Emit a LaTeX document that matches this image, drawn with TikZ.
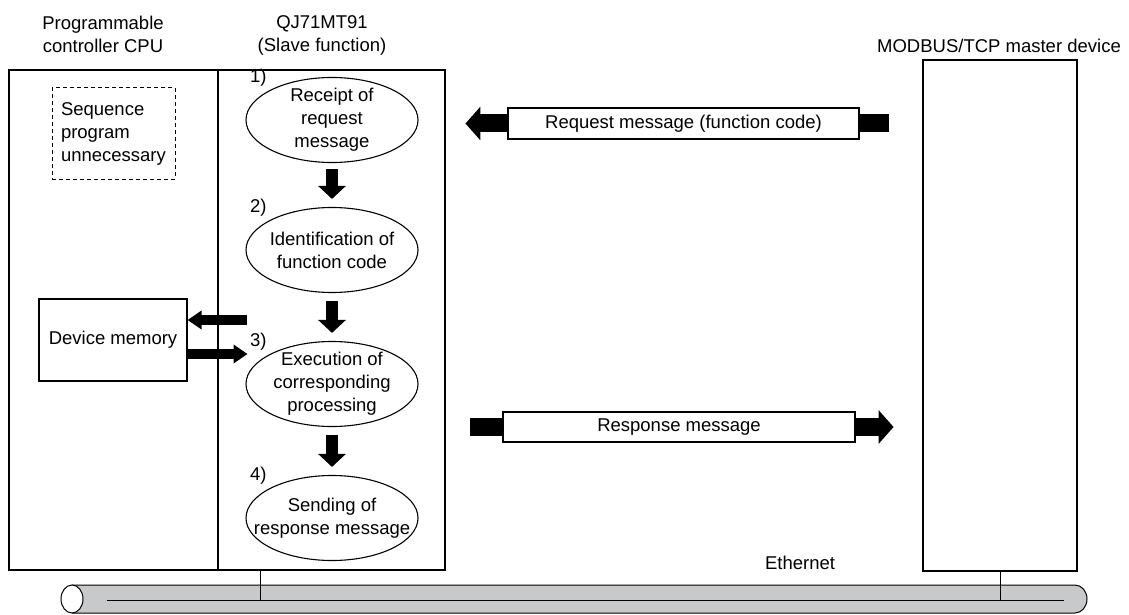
\documentclass[tikz,border=0pt]{standalone}
\usepackage{fontspec}
\setmainfont{Liberation Sans}
\usetikzlibrary{positioning,arrows.meta,shapes.geometric}
\definecolor{cablegray}{RGB}{200,201,203}

\begin{document}
\begin{tikzpicture}[x=1pt,y=-1pt,
    font=\fontsize{18.5}{23}\selectfont,
    unit/.style={draw,line width=1.5pt,inner sep=0pt},
    heading/.style={align=center,inner sep=0pt},
    stepell/.style={draw,ellipse,line width=1.1pt,minimum width=172pt,minimum height=85pt,inner sep=0pt},
    stepnum/.style={anchor=base east,inner sep=0pt},
    membox/.style={draw,line width=1.1pt,minimum width=148pt,minimum height=82pt},
    msgbox/.style={draw,fill=white,line width=1.1pt,minimum height=31pt,inner sep=0pt},
    flowarrow/.style={line width=12pt,-{Triangle[width=27pt,length=13pt]}},
    sidearrow/.style={line width=10pt,-{Triangle[width=18pt,length=14pt]}},
    msgarrow/.style={line width=18pt,-{Triangle[width=33pt,length=15pt]}},
    msgline/.style={line width=18pt}]
  \useasboundingbox (0,0) rectangle (1129,615);

  % stations
  \node[unit,minimum width=209pt,minimum height=500pt] (cpu) at (113.5,320) {};
  \node[unit,minimum width=227pt,minimum height=500pt] (qj) at (331.5,320) {};
  \node[unit,minimum width=154pt,minimum height=511pt] (master) at (1000,315.5) {};
  \node[heading] (cpulbl) at (103,34) {Programmable\\controller CPU};
  \node[heading] (qjlbl) at (322,35) {QJ71MT91\\(Slave function)};
  \node[heading] (masterlbl) at (999,46) {MODBUS/TCP master device};

  % CPU side
  \node[draw,dashed,dash pattern=on 4pt off 3pt,line width=1pt,align=left,
        text width=105pt,inner xsep=9pt,minimum height=91pt] (seq) at (113.5,133.5)
        {Sequence\\program\\unnecessary};
  \node[membox] (dm) at (113,340) {Device memory};

  % slave function steps
  \node[stepell,label={[align=center]center:Receipt of\\request\\message}] (recv) at (332,120) {};
  \node[stepell,label={[align=center]center:Identification of\\function code}] (ident) at (332,250) {};
  \node[stepell,label={[align=center]center:Execution of\\corresponding\\processing}] (exec) at (332,384) {};
  \node[stepell,label={[align=center]center:Sending of\\response message}] (send) at (332,518) {};
  \node[stepnum] at ([shift={(-4,-7)}]recv.north west) {1)};
  \node[stepnum] at ([shift={(-4,-7)}]ident.north west) {2)};
  \node[stepnum] at ([shift={(-4,-7)}]exec.north west) {3)};
  \node[stepnum] at ([shift={(-4,-7)}]send.north west) {4)};
  \draw[flowarrow,shorten <=6pt,shorten >=8pt] (recv) -- (ident);
  \draw[flowarrow,shorten <=8pt,shorten >=8pt] (ident) -- (exec);
  \draw[flowarrow,shorten <=8pt,shorten >=8pt] (exec) -- (send);

  % device memory access
  \coordinate (memrd) at ([xshift=59pt,yshift=20pt]dm.east);
  \coordinate (memwr) at ([xshift=60pt,yshift=-14pt]dm.east);
  \draw[sidearrow] (memrd) -- (memrd -| dm.east);
  \draw[sidearrow] (memwr -| dm.east) -- (memwr);

  % messages
  \node[msgbox,minimum width=351pt] (req) at (683.5,123.5) {Request message (function code)};
  \draw[msgarrow] (req.west) -- ++(-42,0);
  \draw[msgline] (req.east) -- ++(29,0);
  \node[msgbox,minimum width=352pt,minimum height=30pt] (resp) at (679,427) {Response message};
  \draw[msgline] (resp.west) -- ++(-32,0);
  \draw[msgarrow] (resp.east) -- ++(38,0);

  % Ethernet cable
  \fill[cablegray] (72,585) -- (1075,585) arc[start angle=90,end angle=-90,x radius=12pt,y radius=14pt] -- (72,613) -- cycle;
  \draw[line width=1pt] (72,585) -- (1075,585) arc[start angle=90,end angle=-90,x radius=12pt,y radius=14pt] -- (72,613);
  \draw[line width=1pt,fill=white] (72,599) ellipse [x radius=11pt,y radius=14pt];
  \coordinate (busL) at (107,600);
  \coordinate (busR) at (1064,600);
  \coordinate (tapL) at (260,600);
  \draw[line width=1pt] (busL) -- (busR);
  \draw[line width=1pt] (tapL |- qj.south) -- (tapL);
  \draw[line width=1pt] (master.south) -- (master.south |- busR);
  \node (eth) at (800,563) {Ethernet};
\end{tikzpicture}
\end{document}
